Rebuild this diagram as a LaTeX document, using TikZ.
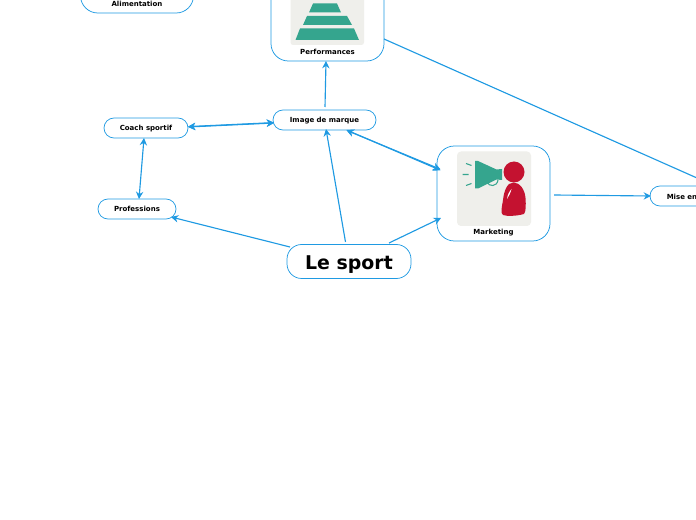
\documentclass[tikz,border=0pt]{standalone}
\usepackage{fontspec}
\setmainfont{DejaVu Sans}
\usetikzlibrary{calc,arrows.meta}
\definecolor{linkblue}{HTML}{1F9AE2}
\definecolor{teal}{HTML}{35A58E}
\definecolor{crimson}{HTML}{C41230}
\definecolor{iconbg}{HTML}{EFEFEB}
\tikzset{
  topic/.style={draw=linkblue,line width=0.55pt,fill=white,rounded corners=7.5pt,inner sep=0pt,font=\bfseries\fontsize{5.25}{6}\selectfont},
  smallbox/.style={topic,minimum height=15pt,text height=4.4pt,text depth=0.6pt},
  bigbox/.style={topic,minimum width=84.75pt,minimum height=71.25pt,rounded corners=13pt},
  caption/.style={font=\bfseries\fontsize{5.25}{6}\selectfont,inner sep=0pt,anchor=base},
  central/.style={topic,minimum width=93pt,minimum height=25.5pt,rounded corners=11pt,font=\bfseries\fontsize{14.2}{16}\selectfont,text height=13pt,text depth=0.5pt},
  link/.style={draw=linkblue,line width=0.85pt,-{Stealth[length=5.5pt,width=5.5pt]}},
  dbl/.style={draw=linkblue,line width=0.85pt,{Stealth[length=5.5pt,width=5.5pt]}-{Stealth[length=5.5pt,width=5.5pt]}}
}
\begin{document}
\begin{tikzpicture}[x=0.75pt,y=-0.75pt]
\useasboundingbox (0,0) rectangle (696,520);
\clip (0,0) rectangle (696,520);
\node[bigbox] (alim) at (137,-34.5) {};
\node[caption] (alimtxt) at (137,6.8) {Alimentation};
\node[bigbox] (perf) at (327.5,13.5) {};
\node[caption] (perftxt) at (327.5,54.8) {Performances};
\node[smallbox,minimum width=77.25pt] (img) at (324.5,120) {Image de marque};
\node[smallbox,minimum width=63pt] (coach) at (146,128) {Coach sportif};
\node[smallbox,minimum width=58.5pt] (prof) at (137,209) {Professions};
\node[bigbox] (mark) at (493.5,193.5) {};
\node[caption] (marktxt) at (493.5,234.8) {Marketing};
\node[central] (sport) at (349,261.5) {Le sport};
\node[smallbox,minimum width=67.5pt] (mise) at (695,196) {};
\node[caption,anchor=base west] (misetxt) at (666.5,199.5) {Mise en};
% pyramid icon
\fill[iconbg,rounded corners=2pt] (290.5,-20) rectangle (364,45);
\fill[teal] (313,3.5) -- (337,3.5) -- (341,12.5) -- (309,12.5) -- cycle;
\fill[teal] (307,16) -- (347,16) -- (352,25) -- (303,25) -- cycle;
\fill[teal] (300,28.5) -- (354,28.5) -- (359,40) -- (295.5,40) -- cycle;
% marketing icon
\fill[iconbg,rounded corners=3pt] (457,151.5) rectangle (531,226);
\fill[teal] (475,161) -- (478,161) -- (496.5,169.5) -- (502,169) -- (502,180) -- (496.5,179.5) -- (478,188.5) -- (475,188.5) -- cycle;
\draw[teal,line width=0.8pt] (487,182) .. controls (489,187) and (497,187) .. (498,180);
\draw[teal,line width=0.8pt] (466,163.5) -- (471.5,165.5) (462.5,174.5) -- (468.5,174.5) (466,185.5) -- (471.5,183.5);
\fill[crimson] (514,172) circle (10.5);
\fill[crimson] (513.5,182.5) .. controls (520,182.5) and (525,190) .. (525.5,198) .. controls (526,205) and (526,212) .. (524,214) .. controls (517,216) and (507,216.5) .. (503,215) .. controls (500,213) and (502,207) .. (503,200) .. controls (504,191) and (507,182.5) .. (513.5,182.5) -- cycle;
\fill[white] (511.5,189) .. controls (509,192) and (507.5,195) .. (507,199) .. controls (509,196) and (510.5,193) .. (511.5,189) -- cycle;
% connectors
\draw[link] ($(sport)+(-3.5,-19.5)$) -- ($(img)+(1.5,9)$);
\draw[link] ($(sport)+(-59,-14.5)$) -- ($(prof)+(34,8)$);
\draw[link] ($(sport)+(40,-18.5)$) -- ($(mark)+(-52.5,24.5)$);
\draw[link] ($(img)+(0.5,-13)$) -- ($(perf)+(-1.5,47.5)$);
\draw[link] ($(mark)+(60.5,1.5)$) -- ($(mise)+(-44,0)$);
\draw[dbl] ($(img)+(22,10)$) -- ($(mark)+(-53,-23.2)$);
\draw[dbl] ($(img)+(22,10.3)$) -- ($(mark)+(-53,-24.2)$);
\draw[dbl] ($(coach)+(42,-1)$) -- ($(img)+(-50.5,3)$);
\draw[dbl] ($(coach)+(42,-1.4)$) -- ($(img)+(-50.5,2.6)$);
\draw[dbl] ($(coach)+(-2,10)$) -- ($(prof)+(2,-10)$);
\draw[draw=linkblue,line width=0.85pt] ($(perf)+(56.5,25.5)$) -- ($(mise)+(20,-10)$);
\end{tikzpicture}
\end{document}
